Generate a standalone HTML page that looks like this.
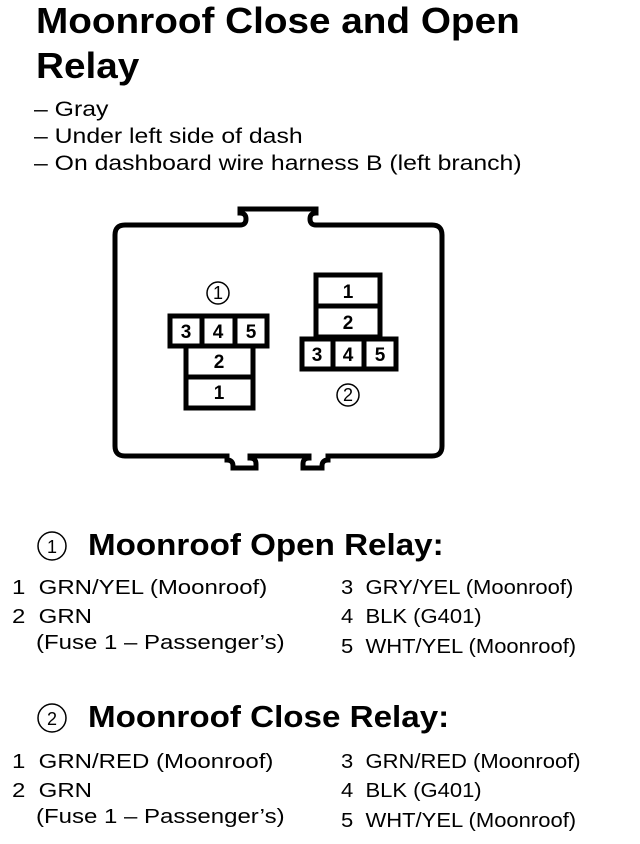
<!DOCTYPE html>
<html><head><style>
body{margin:0;width:640px;height:844px;background:#fff;font-family:"Liberation Sans",sans-serif;color:#000;position:relative;overflow:hidden}
.t{position:absolute;white-space:nowrap;transform-origin:0 0}
.ti{font-size:36px;font-weight:bold;transform:scaleX(1.075)}
.s{font-size:21px;transform:scaleX(1.18)}
.h{font-size:31px;font-weight:bold;transform:scaleX(1.07)}
.l{font-size:20px;transform:scaleX(1.2)}
.r{font-size:20px;transform:scaleX(1.1)}
</style></head><body>
<div class="t ti" style="left:36px;top:0px">Moonroof Close and Open</div>
<div class="t ti" style="left:36px;top:45px">Relay</div>
<div class="t s" style="left:34px;top:98px">– Gray</div>
<div class="t s" style="left:34px;top:125px">– Under left side of dash</div>
<div class="t s" style="left:34px;top:152px">– On dashboard wire harness B (left branch)</div>
<svg width="640" height="844" style="position:absolute;left:0;top:0" font-family="Liberation Sans" font-weight="bold">
<g fill="none" stroke="#000" stroke-width="5">
<path d="M125,225 H240 q6,0 6,-6 q0,-6 -6,-6 V209 H316 v4 q-6,0 -6,6 q0,6 6,6 H432 q10,0 10,10 V446 q0,10 -10,10 H328 v4 q-6,0 -6,6 v2 H303 v-4 q0,-6 6,-6 v-2 H250 v2 q6,0 6,6 v4 H233 v-2 q0,-6 -6,-6 v-4 H125 q-10,0 -10,-10 V235 q0,-10 10,-10 Z"/>
<rect x="170" y="316" width="97" height="30"/>
<line x1="202" y1="316" x2="202" y2="346"/><line x1="235" y1="316" x2="235" y2="346"/>
<rect x="186" y="346" width="67" height="62"/><line x1="186" y1="377" x2="253" y2="377"/>
<rect x="316" y="275" width="64" height="62"/><line x1="316" y1="306" x2="380" y2="306"/>
<rect x="302" y="339" width="94" height="30"/>
<line x1="333" y1="339" x2="333" y2="369"/><line x1="364" y1="339" x2="364" y2="369"/>
</g>
<g font-size="19" text-anchor="middle">
<text x="186" y="338">3</text><text x="218" y="338">4</text><text x="251" y="338">5</text>
<text x="219" y="368">2</text><text x="219" y="399">1</text>
<text x="348" y="298">1</text><text x="348" y="329">2</text>
<text x="317" y="361">3</text><text x="348" y="361">4</text><text x="380" y="361">5</text>
</g>
<g fill="none" stroke="#000" stroke-width="1.5">
<circle cx="218" cy="293" r="11"/><circle cx="348" cy="395" r="11"/>
<circle cx="52" cy="546" r="14"/><circle cx="52" cy="718" r="14"/>
</g>
<g font-size="18" font-weight="normal" text-anchor="middle">
<text x="218" y="299">1</text><text x="348" y="401">2</text>
<text x="52" y="553">1</text><text x="52" y="725">2</text>
</g>
</svg>
<div class="t h" style="left:88px;top:527px">Moonroof Open Relay:</div>
<div class="t l" style="left:12px;top:577px">1&nbsp; GRN/YEL (Moonroof)</div>
<div class="t l" style="left:12px;top:606px">2&nbsp; GRN</div>
<div class="t l" style="left:36px;top:632px">(Fuse 1 – Passenger’s)</div>
<div class="t r" style="left:341px;top:577px">3&nbsp; GRY/YEL (Moonroof)</div>
<div class="t r" style="left:341px;top:606px">4&nbsp; BLK (G401)</div>
<div class="t r" style="left:341px;top:636px">5&nbsp; WHT/YEL (Moonroof)</div>
<div class="t h" style="left:88px;top:699px">Moonroof Close Relay:</div>
<div class="t l" style="left:12px;top:751px">1&nbsp; GRN/RED (Moonroof)</div>
<div class="t l" style="left:12px;top:780px">2&nbsp; GRN</div>
<div class="t l" style="left:36px;top:806px">(Fuse 1 – Passenger’s)</div>
<div class="t r" style="left:341px;top:751px">3&nbsp; GRN/RED (Moonroof)</div>
<div class="t r" style="left:341px;top:780px">4&nbsp; BLK (G401)</div>
<div class="t r" style="left:341px;top:810px">5&nbsp; WHT/YEL (Moonroof)</div>
</body></html>
